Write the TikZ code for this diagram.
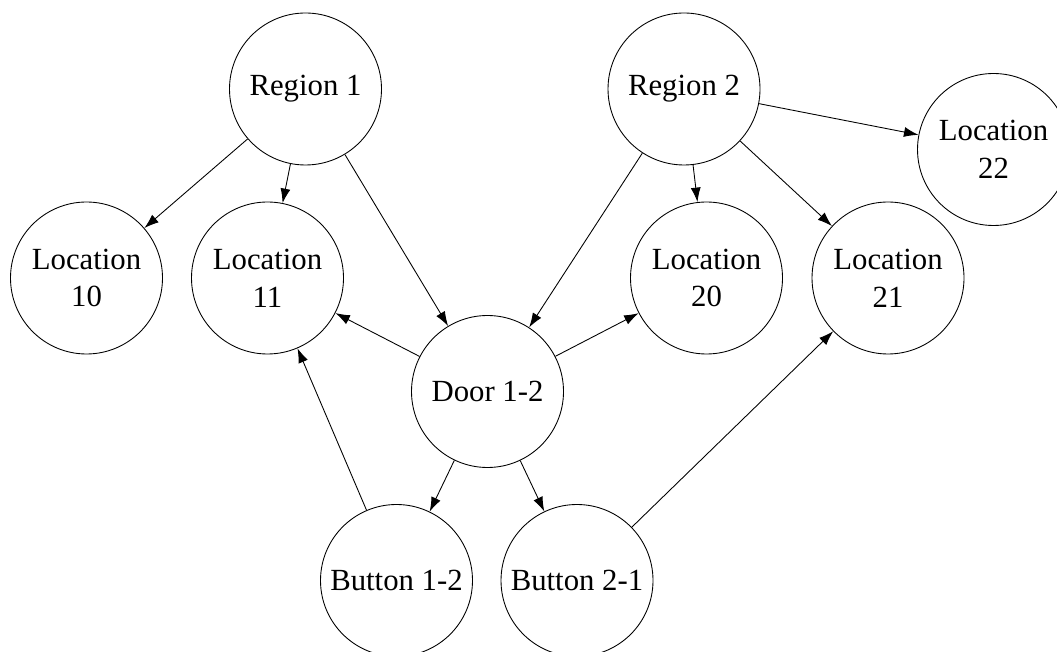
\documentclass[tikz,border=0pt]{standalone}
\usepackage{fontspec}
\setmainfont{Liberation Serif}
\usetikzlibrary{arrows.meta,positioning}

\begin{document}
\begin{tikzpicture}
            \useasboundingbox (0,0) rectangle (21.14,13.02);
            \begin{scope}[every node/.style={circle,draw,line width=0.5pt,minimum size=3.04cm,inner sep=0pt,align=center,font=\fontsize{17.5}{21.5}\selectfont}]
                \node (R1) at (6.11,11.24) {Region 1};
                \node (R2) at (13.68,11.24) {Region 2};
                \node (L22) at (19.87,10.03) {Location\\22};
                \node (L10) at (1.73,7.46) {Location\\10};
                \node (L11) at (5.35,7.46) {Location\\11};
                \node (L20) at (14.13,7.46) {Location\\20};
                \node (L21) at (17.76,7.46) {Location\\21};
                \node (D) at (9.75,5.19) {Door 1-2};
                \node (B12) at (7.93,1.41) {Button 1-2};
                \node (B21) at (11.54,1.41) {Button 2-1};
            \end{scope}
            
            \begin{scope}[>={Latex[black,length=2.9mm,width=2mm]},
                          every edge/.style={draw=black,line width=0.5pt}]
                \path [->] (R1) edge (L10);
                \path [->] (R1) edge (L11);
                \path [->] (R1) edge (D);
                \path [->] (R2) edge (D);
                \path [->] (R2) edge (L20);
                \path [->] (R2) edge (L21);
                \path [->] (R2) edge (L22);
                \path [->] (D) edge (L11);
                \path [->] (D) edge (L20);
                \path [->] (D) edge (B12);
                \path [->] (D) edge (B21);
                \path [->] (B12) edge (L11);
                \path [->] (B21) edge (L21);
            \end{scope}
        \end{tikzpicture}
\end{document}
